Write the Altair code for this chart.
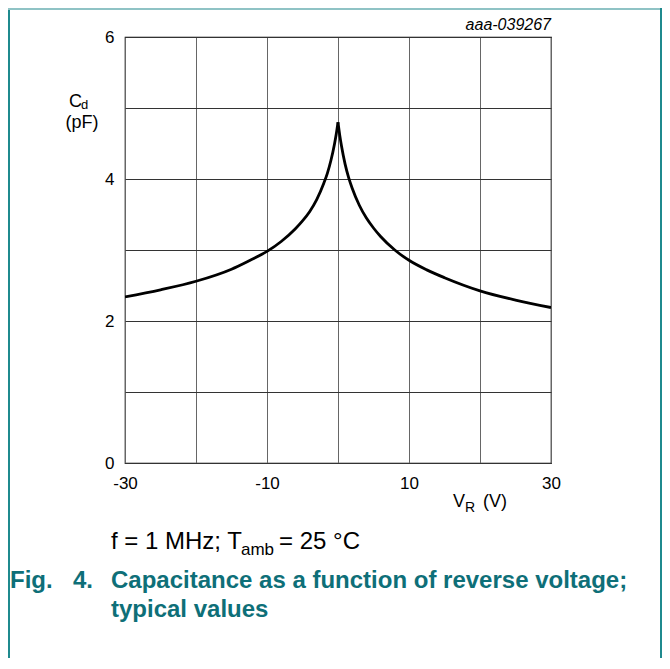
import altair as alt
import pandas as pd

# ---- data ----
v_left = [-30, -25, -20, -15, -12.5, -10, -8, -6, -5, -4, -3, -2, -1.5, -1, -0.5, -0.25, 0]
c_left = [2.34, 2.44, 2.56, 2.73, 2.85, 2.98, 3.12, 3.30, 3.41, 3.54, 3.71, 3.94, 4.08, 4.26,
          4.49, 4.63, 4.80]
v_right = [0, 0.25, 0.5, 1, 1.5, 2, 3, 4, 5, 6, 8, 10, 12.5, 15, 20, 25, 30]
c_right = [4.80, 4.615, 4.46, 4.21, 4.02, 3.87, 3.63, 3.45, 3.31, 3.19, 3.00, 2.855, 2.72,
           2.61, 2.425, 2.295, 2.19]

x_grid = [-30, -20, -10, 0, 10, 20, 30]
y_grid = [0, 1, 2, 3, 4, 5, 6]

code_text = "aaa-039267"
y_title_main = "C"
y_title_sub = "d"
y_title_unit = "(pF)"
x_title_main = "V"
x_title_sub = "R"
x_title_unit = "(V)"
cond_a = "f = 1 MHz; T"
cond_sub = "amb"
cond_b = "= 25 °C"
fig_a = "Fig."
fig_b = "4."
cap1 = "Capacitance as a function of reverse voltage;"
cap2 = "typical values"

FONT = "Liberation Sans"
TEAL = "#0e6f78"
FRAME = "#1f8a8e"

df = pd.DataFrame({
    "V": v_left + v_right,
    "C": c_left + c_right,
    "branch": ["L"] * len(v_left) + ["R"] * len(v_right),
})

W, H = 426, 426
PAD_L, PAD_T = 117, 29
SVG_W, SVG_H = 654, 650

xs = alt.Scale(domain=[-30, 30], nice=False, zero=False)
ys = alt.Scale(domain=[0, 6], nice=False, zero=False)

line = alt.Chart(df).mark_line(
    color="black", strokeWidth=2.8, interpolate="monotone", clip=True
).encode(
    x=alt.X("V:Q", scale=xs, axis=alt.Axis(
        values=x_grid, title=None, ticks=False, tickSize=0, domain=False,
        grid=True, gridColor="#666", gridWidth=1, gridOpacity=1,
        labelExpr="abs(datum.value) % 20 == 10 ? '' + datum.value : ''",
        labelFont=FONT, labelFontSize=17, labelColor="black",
        labelPadding=12, labelFlush=False, labelOverlap=False)),
    y=alt.Y("C:Q", scale=ys, axis=alt.Axis(
        values=y_grid, title=None, ticks=False, tickSize=0, domain=False,
        grid=True, gridColor="#333", gridWidth=1, gridOpacity=1,
        labelExpr="datum.value % 2 == 0 ? '' + datum.value : ''",
        labelFont=FONT, labelFontSize=17, labelColor="black",
        labelPadding=11, labelFlush=False, labelOverlap=False)),
    detail="branch:N",
)


def txt(text, x, y, size, align="left", color="black", weight="normal",
        style="normal"):
    return alt.Chart(alt.Data(values=[{}])).mark_text(
        text=text, font=FONT, fontSize=size, align=align, baseline="alphabetic",
        color=color, fontWeight=weight, fontStyle=style,
    ).encode(x=alt.value(x), y=alt.value(y))


def rule(x, y, x2=None, y2=None, color=FRAME, width=2):
    enc = {"x": alt.value(x), "y": alt.value(y)}
    if x2 is not None:
        enc["x2"] = alt.value(x2)
    if y2 is not None:
        enc["y2"] = alt.value(y2)
    return alt.Chart(alt.Data(values=[{}])).mark_rule(
        color=color, strokeWidth=width).encode(**enc)


ox, oy = 125, 37  # page position of plot origin

layers = [
    line,
    txt(code_text, 551 - ox, 30 - oy, 16, align="right", style="italic"),
    txt(y_title_main, 69 - ox, 107 - oy, 18),
    txt(y_title_sub, 81 - ox, 109 - oy, 13),
    txt(y_title_unit, 82 - ox, 128 - oy, 18, align="center"),
    txt(x_title_main, 453 - ox, 507 - oy, 18),
    txt(x_title_sub, 465 - ox, 512 - oy, 14),
    txt(x_title_unit, 483 - ox, 507 - oy, 18),
    txt(cond_a, 111 - ox, 549 - oy, 24),
    txt(cond_sub, 241 - ox, 555 - oy, 17),
    txt(cond_b, 279 - ox, 549 - oy, 24),
    txt(fig_a, 10 - ox, 588 - oy, 24, color=TEAL, weight="bold"),
    txt(fig_b, 73 - ox, 588 - oy, 24, color=TEAL, weight="bold"),
    txt(cap1, 111 - ox, 588 - oy, 24, color=TEAL, weight="bold"),
    txt(cap2, 111 - ox, 617 - oy, 24, color=TEAL, weight="bold"),
    rule(-PAD_L + 1, -PAD_T, y2=SVG_H - PAD_T, color=FRAME, width=2),
    rule(-PAD_L, -PAD_T + 1, x2=SVG_W - PAD_L, color="#8fc3c5", width=2),
    rule(SVG_W - PAD_L - 1, -PAD_T, y2=SVG_H - PAD_T, color=FRAME, width=2),
]

chart = alt.layer(*layers).properties(
    width=W, height=H,
    autosize=alt.AutoSizeParams(type="none"),
    padding={"left": PAD_L, "top": PAD_T,
             "right": SVG_W - PAD_L - W, "bottom": SVG_H - PAD_T - H},
).configure_view(stroke="black", strokeWidth=1.2)

chart.save("out.html", embed_options={"renderer": "svg", "actions": False})
